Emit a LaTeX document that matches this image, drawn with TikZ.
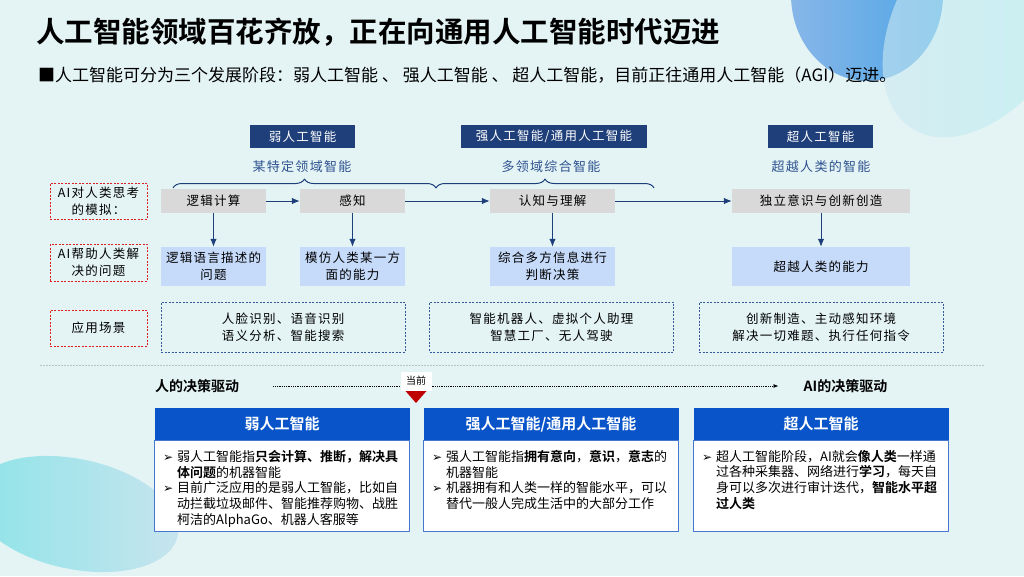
\documentclass[tikz,border=0pt]{standalone}
\usepackage{fontspec}
\setmainfont{Noto Sans CJK SC}[BoldFont={Noto Sans CJK SC Bold}]
\newfontfamily\diagfont{Noto Sans CJK SC}[LetterSpace=10]
\newfontfamily\symfont{DejaVu Sans}
\usepackage{tikz}
\usetikzlibrary{arrows.meta,decorations.pathreplacing}

\definecolor{bgcol}{RGB}{228,244,245}
\definecolor{navy}{RGB}{31,63,122}
\definecolor{labelblue}{RGB}{47,82,143}
\definecolor{thinkgray}{RGB}{217,217,217}
\definecolor{helpblue}{RGB}{198,218,250}
\definecolor{dashred}{RGB}{220,32,32}
\definecolor{dashblue}{RGB}{52,90,160}
\definecolor{stageblue}{RGB}{8,84,200}
\definecolor{frameblue}{RGB}{70,118,205}
\definecolor{curred}{RGB}{192,0,0}
\definecolor{blobblueA}{RGB}{135,182,232}
\definecolor{blobblueB}{RGB}{78,166,230}
\definecolor{blobcyanA}{RGB}{205,232,242}
\definecolor{blobcyanB}{RGB}{178,238,238}
\definecolor{blobcyanC}{RGB}{140,228,232}
\definecolor{blobcyanD}{RGB}{200,228,238}
\definecolor{sepgray}{RGB}{185,195,198}

\newcommand{\stagebullet}{\makebox[14pt][l]{\symfont\fontsize{12}{12}\selectfont ➢}}
\newcommand{\stageindent}{\hspace*{14pt}}

\begin{document}
\begin{tikzpicture}[x=1pt,y=-1pt,line join=round,
  hdr/.style={fill=navy,text=white,inner sep=0pt,minimum height=23pt,font=\diagfont\fontsize{12.5}{15}\selectfont},
  lvl/.style={text=labelblue,inner sep=0pt,font=\diagfont\fontsize{13}{15}\selectfont},
  think/.style={fill=thinkgray,inner sep=0pt,minimum height=24pt,font=\diagfont\fontsize{12.5}{15}\selectfont},
  helpbox/.style={fill=helpblue,inner sep=0pt,minimum height=39pt,align=center,font=\diagfont\fontsize{12.5}{17}\selectfont},
  rowlbl/.style={draw=dashred,line width=1pt,dash pattern=on 2pt off 1.5pt,inner sep=0pt,minimum width=97pt,align=center,font=\diagfont\fontsize{12.5}{17}\selectfont},
  scene/.style={draw=dashblue,line width=1pt,dash pattern=on 2pt off 1.5pt,inner sep=0pt,minimum width=244pt,minimum height=50pt,align=center,font=\diagfont\fontsize{12.5}{17}\selectfont},
  flow/.style={draw=navy,line width=1pt,-{Latex[length=8pt,width=6.5pt]}},
  bracecurve/.style={draw=navy,line width=1pt,decorate,decoration={brace,amplitude=9pt}},
  drv/.style={inner sep=0pt,font=\bfseries\fontsize{14}{16}\selectfont},
  dotflow/.style={line width=0.8pt,densely dotted,-{Latex[length=5pt,width=4pt]}},
  stage/.style={fill=stageblue,text=white,inner sep=0pt,minimum width=255pt,minimum height=32pt,font=\bfseries\fontsize{15}{17}\selectfont},
  stagebox/.style={draw=frameblue,fill=white,line width=1pt,inner sep=0pt,minimum width=255pt,minimum height=91pt},
  body/.style={anchor=north west,inner sep=0pt,align=left,font=\fontsize{13}{15.7}\selectfont}]

% --- 0. BACKGROUND ---
\useasboundingbox (0,0) rectangle (1024,576);
\fill[bgcol] (0,0) rectangle (1024,576);
\begin{scope}
  \clip (0,0) rectangle (1024,576);
  \shade[left color=blobblueA,right color=blobblueB] (867,-5) ellipse (76pt and 86pt);
  \shade[left color=blobcyanA,right color=blobcyanB,opacity=0.6,rotate around={57:(985,15)}] (985,15) ellipse (135pt and 85pt);
  \shade[left color=blobcyanC,right color=blobcyanD,rotate around={-12:(75,514)}] (75,514) ellipse (105pt and 55pt);
\end{scope}

% --- 1. TITLE ---
\node[anchor=west,inner sep=0pt,font=\bfseries\fontsize{28.5}{32}\selectfont] (title) at (36,32) {人工智能领域百花齐放，正在向通用人工智能时代迈进};
\node[anchor=west,inner sep=0pt,font=\fontsize{17}{19}\selectfont] (subtitle) at (38,75) {■人工智能可分为三个发展阶段：弱人工智能 、 强人工智能 、 超人工智能，目前正往通用人工智能（AGI）迈进。};

% --- 2. THREE STAGES (UPPER CHART) ---
\node[hdr,minimum width=105pt] (wk) at (302.5,136.5) {弱人工智能};
\node[hdr,minimum width=186pt] (st) at (554,136.5) {强人工智能/通用人工智能};
\node[hdr,minimum width=105pt] (sp) at (820.5,136.5) {超人工智能};

\node[lvl] (wkl) at (302,167) {某特定领域智能};
\node[lvl] (stl) at (551,167) {多领域综合智能};
\node[lvl] (spl) at (821,167) {超越人类的智能};

% braces under the labels
\draw[bracecurve] (173,188) -- (436,188);
\draw[bracecurve] (436,188) -- (654,188);

% row labels
\node[rowlbl,minimum height=36pt] (l1) at (98.5,201) {AI对人类思考\\的模拟：};
\node[rowlbl,minimum height=37pt] (l2) at (98.5,262.5) {AI帮助人类解\\决的问题};
\node[rowlbl,minimum height=36pt] (l3) at (98.5,328) {应用场景};

% thinking steps
\node[think,minimum width=105pt] (t1) at (213.5,201) {逻辑计算};
\node[think,minimum width=105pt] (t2) at (352.5,201) {感知};
\node[think,minimum width=125pt] (t3) at (552.5,201) {认知与理解};
\node[think,minimum width=178pt] (t4) at (821,201) {独立意识与创新创造};

% problems solved
\node[helpbox,minimum width=105pt] (h1) at (213.5,266.5) {逻辑语言描述的\\问题};
\node[helpbox,minimum width=105pt] (h2) at (352.5,266.5) {模仿人类某一方\\面的能力};
\node[helpbox,minimum width=125pt] (h3) at (552.5,266.5) {综合多方信息进行\\判断决策};
\node[helpbox,minimum width=178pt] (h4) at (821,266.5) {超越人类的能力};

\draw[flow] (t1) -- (t2);
\draw[flow] (t2) -- (t3);
\draw[flow] (t3) -- (t4);
\foreach \i in {1,...,4} {
  \draw[flow] (t\i) -- (h\i);
}

% application scenes
\node[scene] (s1) at (283,327) {人脸识别、语音识别\\语义分析、智能搜索};
\node[scene] (s2) at (551.5,327) {智能机器人、虚拟个人助理\\智慧工厂、无人驾驶};
\node[scene] (s3) at (821,327) {创新制造、主动感知环境\\解决一切难题、执行任何指令};

% --- 3. SEPARATOR & DECISION AXIS ---
\draw[sepgray,line width=0.8pt,dash pattern=on 2pt off 1pt] (40,365) -- (985,365);

\node[drv] (hdrv) at (197,386) {人的决策驱动};
\node[drv] (adrv) at (845.5,386) {AI的决策驱动};
\draw[dotflow] ([xshift=34pt]hdrv.east) -- ([xshift=-25pt]adrv.west);

\node[fill=white,inner sep=0pt,minimum width=31pt,minimum height=19pt,font=\fontsize{10}{12}\selectfont] (now) at (416,381) {当前};
\fill[curred] (405.5,391) -- (426.5,391) -- (416,403) -- cycle;

% --- 4. STAGE CARDS ---
\node[stage] (b1) at (282,424) {弱人工智能};
\node[stage] (b2) at (551,424) {强人工智能/通用人工智能};
\node[stage] (b3) at (821,424) {超人工智能};

\node[stagebox] (c1) at (282,485.5) {};
\node[stagebox] (c2) at (551,485.5) {};
\node[stagebox] (c3) at (821,485.5) {};

\node[body] (c1t) at (163,450) {\stagebullet 弱人工智能指\textbf{只会计算、推断，解决具}\\
\stageindent\textbf{体问题}的机器智能\\
\stagebullet 目前广泛应用的是弱人工智能，比如自\\
\stageindent 动拦截垃圾邮件、智能推荐购物、战胜\\
\stageindent 柯洁的AlphaGo、机器人客服等};

\node[body] (c2t) at (432,450) {\stagebullet 强人工智能指\textbf{拥有意向}，\textbf{意识}，\textbf{意志}的\\
\stageindent 机器智能\\
\stagebullet 机器拥有和人类一样的智能水平，可以\\
\stageindent 替代一般人完成生活中的大部分工作};

\node[body] (c3t) at (702,450) {\stagebullet 超人工智能阶段，AI就会\textbf{像人类}一样通\\
\stageindent 过各种采集器、网络进行\textbf{学习}，每天自\\
\stageindent 身可以多次进行审计迭代，\textbf{智能水平超}\\
\stageindent\textbf{过人类}};

\end{tikzpicture}
\end{document}
